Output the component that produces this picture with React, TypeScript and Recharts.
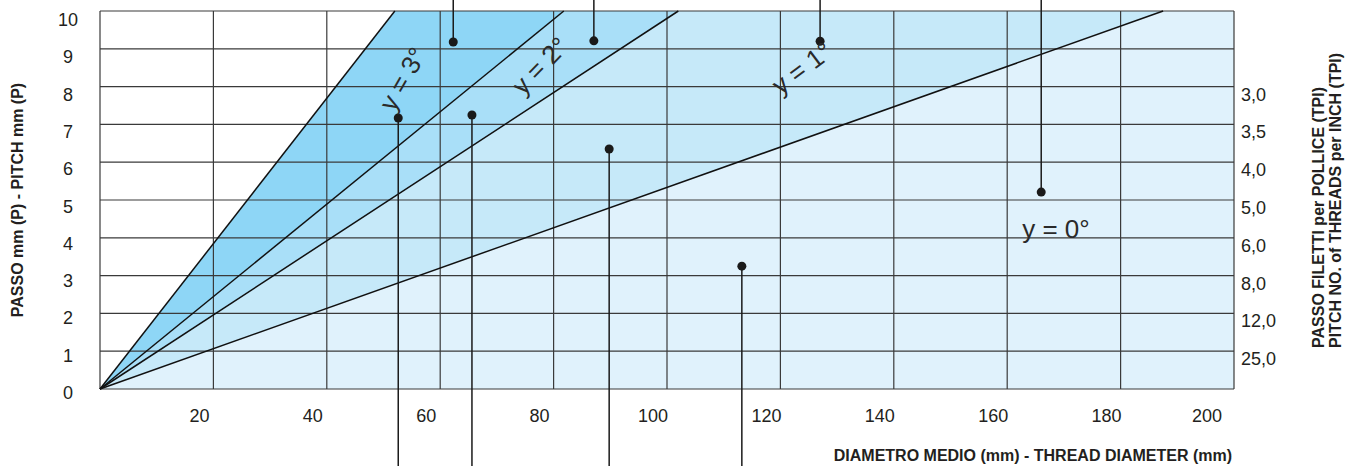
import { ComposedChart, Area, XAxis, YAxis, ReferenceLine, ReferenceDot } from "recharts"

const diameterTicks = [0, 20, 40, 60, 80, 100, 120, 140, 160, 180, 200]
const diameterLabels = [20, 40, 60, 80, 100, 120, 140, 160, 180, 200]
const pitchTicks = [0, 1, 2, 3, 4, 5, 6, 7, 8, 9, 10]
const tpiTicks = [1, 2, 3, 4, 5, 6, 7, 8]
const tpiLabels = ["25,0", "12,0", "8,0", "6,0", "5,0", "4,0", "3,5", "3,0"]

// diametro a cui ogni retta raggiunge P = 10
const angleNames = ["y = 3°", "y = 2°", "y = 1°", "y = 0°"]
const lineEndDiameter = [52.0, 81.8, 102.0, 187.5]
const regionColors = ["#8ed6f6", "#a9dff8", "#c6e9f9", "#e0f2fc"]

const labelDiameter = [53.4, 77.6, 123.8, 168.6]
const labelPitch = [8.2, 8.55, 8.49, 4.23]
const labelAngle = [-60, -46, -37, 0]

// richiami: verso l'alto e verso il basso
const upperPointerD = [62.3, 87.1, 127.0, 166.0]
const upperPointerP = [9.18, 9.21, 9.2, 5.21]
const lowerPointerD = [52.6, 65.6, 89.8, 113.2]
const lowerPointerP = [7.17, 7.25, 6.35, 3.25]
const pageTopP = 10.3
const pageBottomP = -2.1

const FONT = "'Liberation Sans', Arial, Helvetica, sans-serif"
const TEXT = "#231f20"

const XTick = ({ x, y, payload }: any) => (
  <text
    x={x + (payload.value === 200 ? -27 : -14)}
    y={y + 33}
    textAnchor="middle"
    fontSize={18}
    fontFamily={FONT}
    fill={TEXT}
  >
    {payload.value}
  </text>
)

const LeftTick = ({ x, y, payload }: any) => (
  <text
    x={x - 32}
    y={y + 4 + payload.value * 0.5}
    textAnchor="middle"
    dominantBaseline="central"
    fontSize={18}
    fontFamily={FONT}
    fill={TEXT}
  >
    {payload.value}
  </text>
)

export default function App() {
  return (
    <div style={{ position: "absolute", left: 0, top: 0, width: 1359, height: 466, background: "#fff" }}>
      <ComposedChart width={1359} height={466} margin={{ top: 11, right: 125, bottom: 0, left: 0 }}>
        <XAxis
          type="number"
          dataKey="d"
          domain={[0, 200]}
          ticks={diameterLabels}
          axisLine={false}
          tickLine={false}
          tickSize={0}
          tickMargin={0}
          height={77}
          tick={<XTick />}
          allowDataOverflow
        />
        <YAxis
          type="number"
          domain={[0, 10]}
          ticks={pitchTicks}
          axisLine={false}
          tickLine={false}
          tickSize={0}
          tickMargin={0}
          width={100}
          tick={<LeftTick />}
          allowDataOverflow
        />

        {lineEndDiameter.map((end, i) => (
          <Area
            key={`area-${i}`}
            data={[
              { d: 0, p: 0 },
              { d: end, p: 10 },
              { d: 200, p: 10 },
            ]}
            dataKey="p"
            type="linear"
            stroke="none"
            fill={regionColors[i]}
            fillOpacity={1}
            dot={false}
            activeDot={false}
            isAnimationActive={false}
          />
        ))}

        {diameterTicks.map((d) => (
          <ReferenceLine key={`gx-${d}`} x={d} stroke="#3a3a3a" strokeWidth={1.2} />
        ))}
        {pitchTicks.map((p) => (
          <ReferenceLine key={`gy-${p}`} y={p} stroke="#3a3a3a" strokeWidth={1.2} />
        ))}

        {lineEndDiameter.map((end, i) => (
          <ReferenceLine
            key={`line-${i}`}
            segment={[
              { x: 0, y: 0 },
              { x: end, y: 10 },
            ]}
            stroke="#111"
            strokeWidth={1.5}
          />
        ))}

        {upperPointerD.map((d, i) => (
          <ReferenceLine
            key={`up-${i}`}
            segment={[
              { x: d, y: pageTopP },
              { x: d, y: upperPointerP[i] },
            ]}
            stroke="#1a1a1a"
            strokeWidth={1.5}
            ifOverflow="visible"
          />
        ))}
        {lowerPointerD.map((d, i) => (
          <ReferenceLine
            key={`low-${i}`}
            segment={[
              { x: d, y: lowerPointerP[i] },
              { x: d, y: pageBottomP },
            ]}
            stroke="#1a1a1a"
            strokeWidth={1.5}
            ifOverflow="visible"
          />
        ))}
        {upperPointerD.map((d, i) => (
          <ReferenceDot key={`upd-${i}`} x={d} y={upperPointerP[i]} r={4.5} fill="#1a1a1a" stroke="none" ifOverflow="visible" />
        ))}
        {lowerPointerD.map((d, i) => (
          <ReferenceDot key={`lowd-${i}`} x={d} y={lowerPointerP[i]} r={4.5} fill="#1a1a1a" stroke="none" ifOverflow="visible" />
        ))}

        {/* scala TPI a destra, sulle stesse righe del passo */}
        {tpiTicks.map((p, i) => (
          <ReferenceDot
            key={`tpi-${p}`}
            x={200}
            y={p}
            r={0}
            ifOverflow="visible"
            shape={(props: any) => (
              <text
                x={props.cx + 7}
                y={props.cy + 8}
                textAnchor="start"
                dominantBaseline="central"
                fontSize={18}
                fontFamily={FONT}
                fill={TEXT}
              >
                {tpiLabels[i]}
              </text>
            )}
          />
        ))}

        {angleNames.map((name, i) => (
          <ReferenceDot
            key={`lab-${i}`}
            x={labelDiameter[i]}
            y={labelPitch[i]}
            r={0}
            ifOverflow="visible"
            shape={(props: any) => (
              <text
                x={props.cx}
                y={props.cy}
                transform={`rotate(${labelAngle[i]} ${props.cx} ${props.cy})`}
                textAnchor="middle"
                dominantBaseline="central"
                fontSize={26}
                fontFamily={FONT}
                fill="#2a2a2a"
              >
                {name}
              </text>
            )}
          />
        ))}
      </ComposedChart>

      <svg
        width={1359}
        height={466}
        style={{ position: "absolute", left: 0, top: 0, pointerEvents: "none" }}
        fontFamily={FONT}
        fontWeight="bold"
        fill={TEXT}
      >
        <text x={17} y={200} transform="rotate(-90 17 200)" textAnchor="middle" dominantBaseline="central" fontSize={16}>
          PASSO mm (P) - PITCH mm (P)
        </text>
        <text x={1318} y={348} transform="rotate(-90 1318 348)" textAnchor="start" dominantBaseline="central" fontSize={16}>
          PASSO FILETTI per POLLICE (TPI)
        </text>
        <text x={1335} y={348} transform="rotate(-90 1335 348)" textAnchor="start" dominantBaseline="central" fontSize={16}>
          PITCH NO. of THREADS per INCH (TPI)
        </text>
        <text x={1232} y={461} textAnchor="end" fontSize={16}>
          DIAMETRO MEDIO (mm) - THREAD DIAMETER (mm)
        </text>
      </svg>
    </div>
  )
}
